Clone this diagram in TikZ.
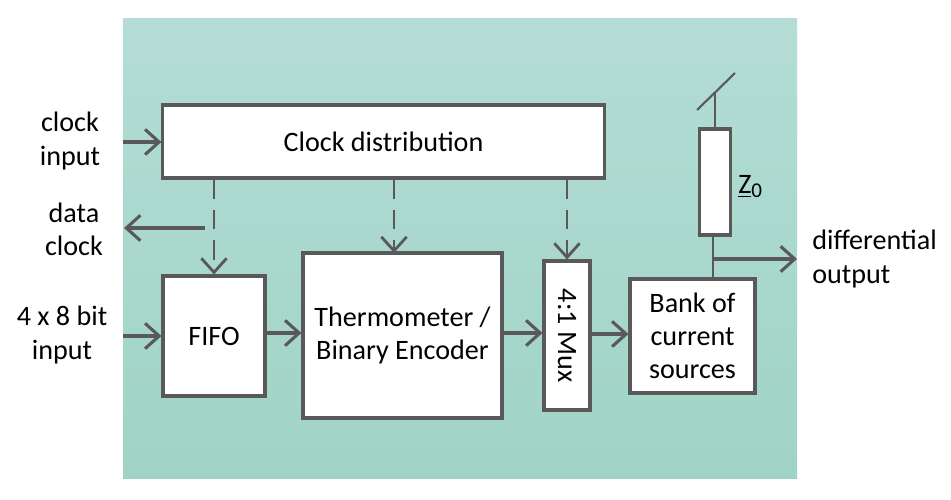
\documentclass[tikz,border=0pt]{standalone}
\usepackage{fontspec}
\setmainfont{Carlito}
\usetikzlibrary{arrows.meta}
\definecolor{linegray}{HTML}{595959}
\definecolor{tealtop}{HTML}{B4DDD5}
\definecolor{tealbot}{HTML}{A0D3C6}

\begin{document}
\begin{tikzpicture}[x=0.025cm,y=-0.025cm,
	every node/.style={font=\fontsize{20}{23.5}\selectfont},
	blk/.style={draw=linegray,line width=2.2pt,fill=white,inner sep=0pt,align=center},
	arr/.style={draw=linegray,line width=2.2pt,-{Straight Barb[length=10pt,width=18pt]}},
	darr/.style={arr,line width=2pt,dash pattern=on 14pt off 7.5pt},
	wire/.style={draw=linegray,line width=1.5pt},
	lbl/.style={align=center,inner sep=0pt}]
	\useasboundingbox (0,0) rectangle (951,499);
	\shade[top color=tealtop,bottom color=tealbot] (123,19) rectangle (797,478);
	% blocks
	\node[blk,minimum width=11.025cm,minimum height=1.825cm] (clk) at (383.5,141.5) {Clock distribution};
	\node[blk,minimum width=2.55cm,minimum height=3cm] (fifo) at (214,336) {FIFO};
	\node[blk,minimum width=4.975cm,minimum height=4.125cm] (therm) at (402.5,335.5) {Thermometer /\\Binary Encoder};
	\node[blk,minimum width=1.15cm,minimum height=3.725cm] (mux) at (567,335.5) {};
	\node[rotate=-90,inner sep=0pt] (muxtxt) at (mux.center) {4:1 Mux};
	\node[blk,minimum width=3.125cm,minimum height=2.85cm] (bank) at (692.5,336) {Bank of\\current\\sources};
	\node[blk,minimum width=0.775cm,minimum height=2.65cm] (res) at (715,182) {};
	\node[anchor=west,inner sep=0pt] (zlbl) at (738,187) {\underline{Z}\raisebox{-0.3ex}{\fontsize{15}{15}\selectfont 0}};
	% outside labels
	\node[lbl] (clkin) at (70,141) {clock\\input};
	\node[lbl] (dclk) at (74,229) {data\\clock};
	\node[lbl] (datin) at (62,335) {4 x 8 bit\\input};
	\node[lbl,align=left,anchor=west] (outlbl) at (812,259) {differential\\output};
	% end points
	\coordinate (cin) at (123,142);
	\coordinate (din) at (123,336);
	\coordinate (dtap) at (205,228);
	\coordinate (dout) at (124,228);
	\coordinate (tin) at (394,253);
	\coordinate (tap) at (713,259);
	\coordinate (out) at (797,259);
	\coordinate (top) at (715,92);
	\coordinate (sl) at (697,110);
	\coordinate (sr) at (735,73);
	% clock
	\draw[arr] (cin) -- (clk.west |- cin);
	\draw[darr] (clk.south -| fifo.north) -- (fifo.north);
	\draw[darr] (clk.south -| tin) -- (tin);
	\draw[darr] (clk.south -| mux.north) -- (mux.north);
	\draw[arr] (dtap) -- (dout);
	% data path
	\draw[arr] (din) -- (fifo.west |- din);
	\draw[arr] (fifo.east |- 0,333) -- (therm.west |- 0,333);
	\draw[arr] (therm.east |- 0,333) -- (mux.west |- 0,333);
	\draw[arr] (mux.east |- 0,334) -- (bank.west |- 0,334);
	% output
	\draw[wire] (bank.north -| tap) -- (res.south -| tap);
	\draw[arr] (tap) -- (out);
	\draw[wire] (res.north) -- (top);
	\draw[wire] (sl) -- (sr);
\end{tikzpicture}
\end{document}
